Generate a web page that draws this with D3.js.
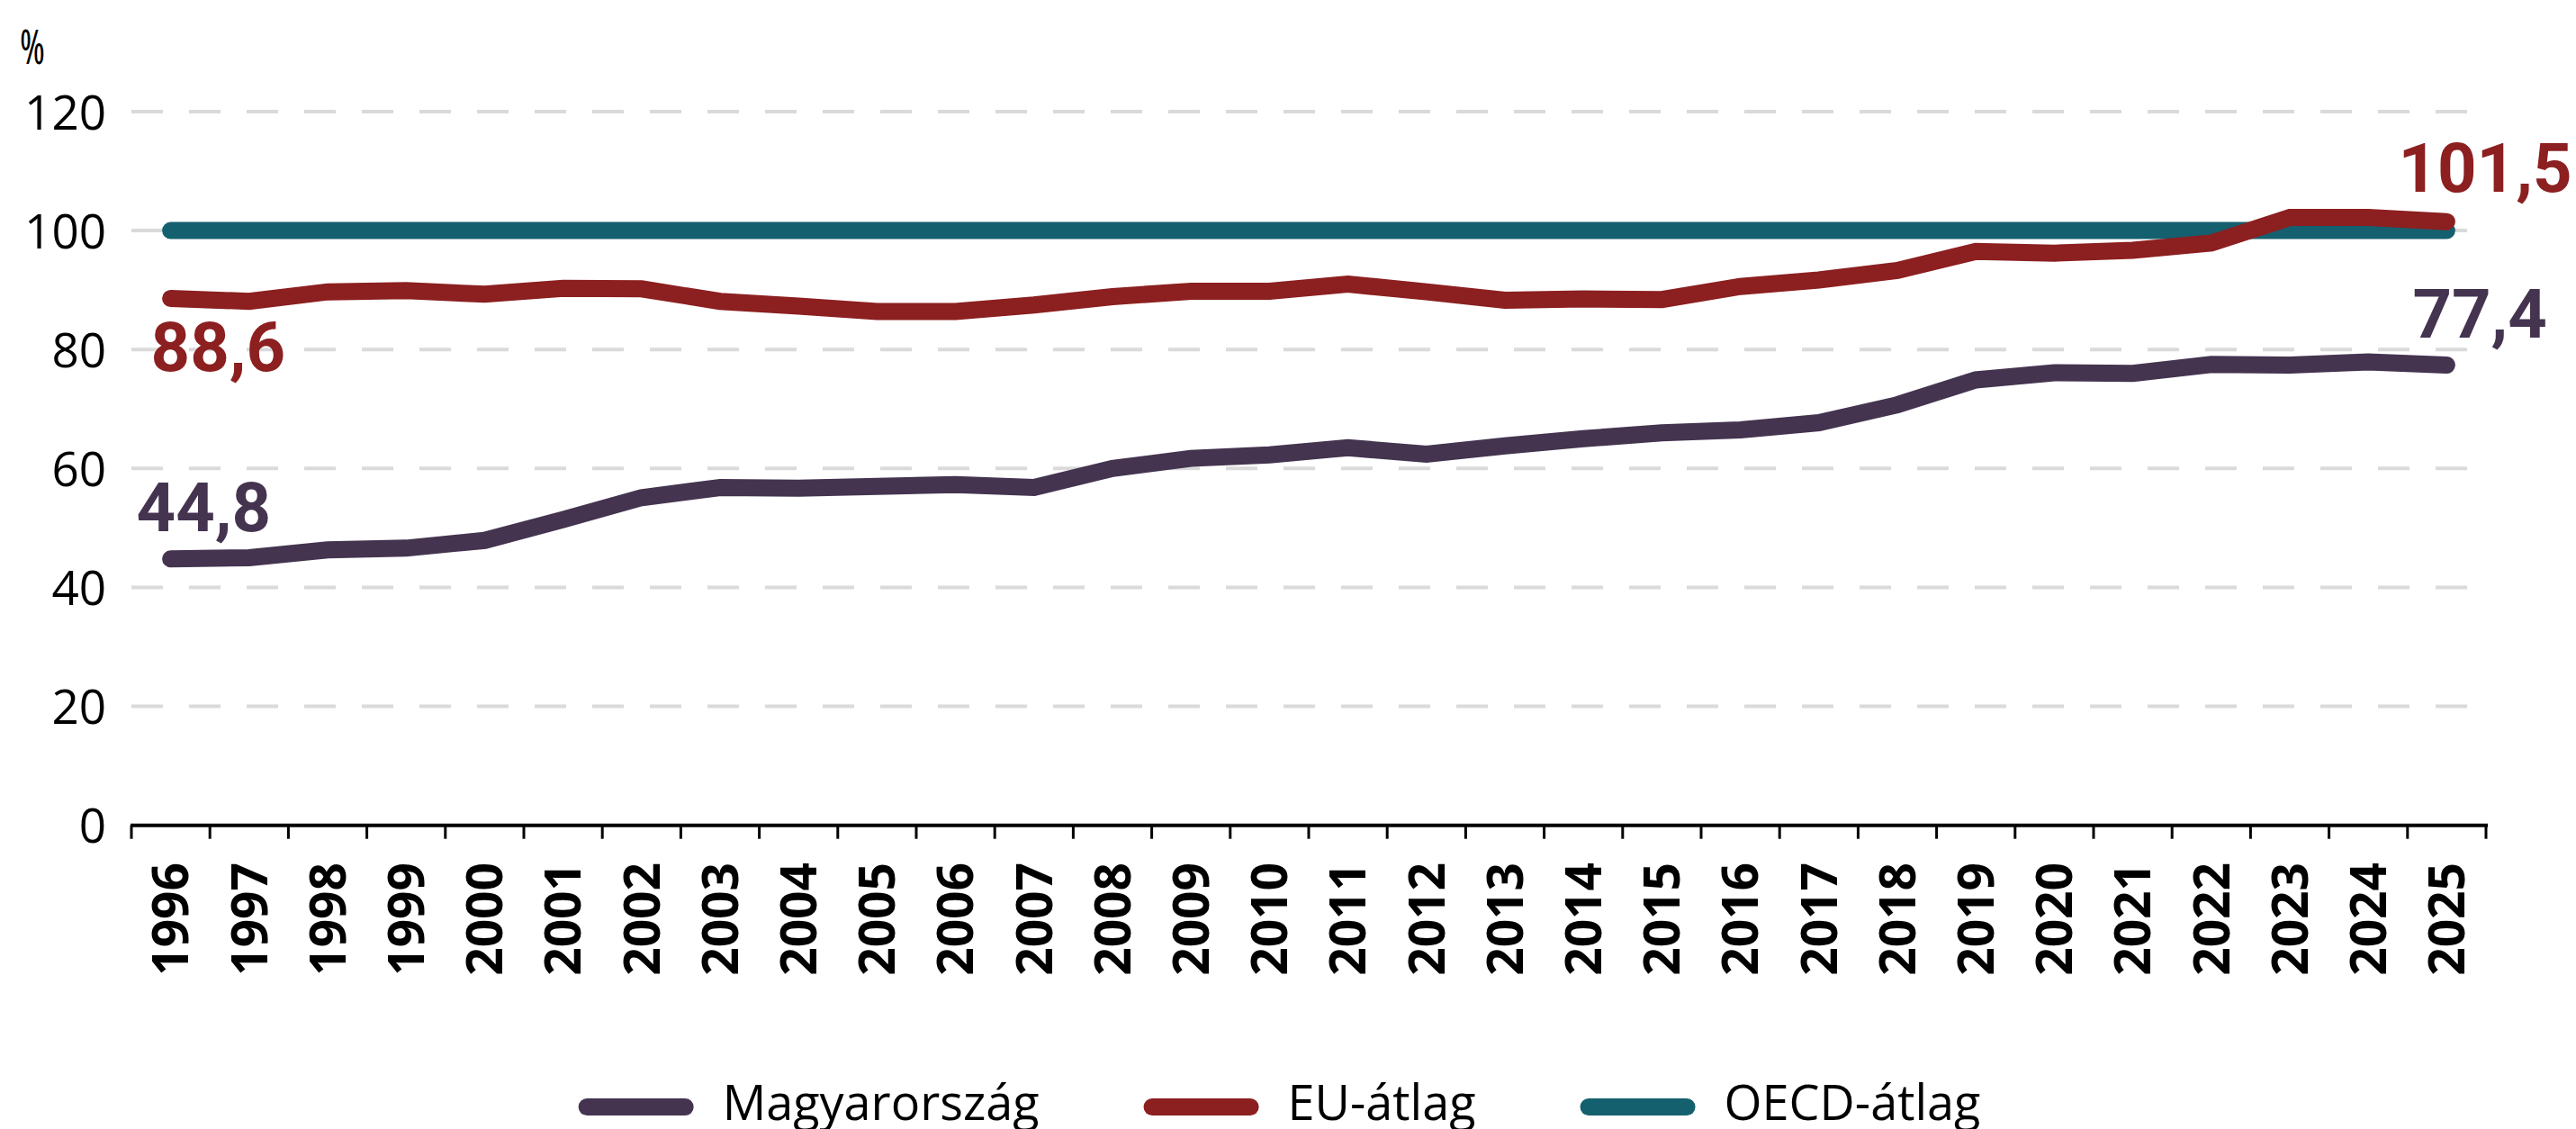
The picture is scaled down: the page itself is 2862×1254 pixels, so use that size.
<!DOCTYPE html>
<html><head><meta charset="utf-8">
<script src="https://cdn.jsdelivr.net/npm/d3@7"></script>
<style>html,body{margin:0;padding:0;background:#fff;overflow:hidden}</style>
</head><body>
<svg id="chart" width="2862" height="1254"></svg>
<script>
const years = [1996,1997,1998,1999,2000,2001,2002,2003,2004,2005,2006,2007,2008,2009,2010,2011,2012,2013,2014,2015,2016,2017,2018,2019,2020,2021,2022,2023,2024,2025];
const hungary = [44.8,45.0,46.3,46.6,47.9,51.4,55.1,56.8,56.7,57.0,57.3,56.8,60.0,61.7,62.3,63.5,62.4,63.8,65.0,66.0,66.5,67.7,70.7,74.9,76.1,76.0,77.5,77.4,77.9,77.4];
const euAvg = [88.6,88.1,89.7,89.9,89.3,90.3,90.2,88.1,87.3,86.4,86.4,87.5,88.9,89.8,89.8,91.0,89.7,88.3,88.5,88.4,90.6,91.7,93.3,96.5,96.2,96.7,97.9,102.2,102.2,101.5];
const oecdAvg = [100,100,100,100,100,100,100,100,100,100,100,100,100,100,100,100,100,100,100,100,100,100,100,100,100,100,100,100,100,100];
const yTicks = [0,20,40,60,80,100,120];
const seriesNames = ["Magyarország","EU-átlag","OECD-átlag"];
const seriesColors = ["#443450","#8c1f20","#14606e"];
const unitLabel = "%";

const svg = d3.select("#chart");
svg.append("rect").attr("width",2862).attr("height",1254).attr("fill","#fff");

const x = d3.scaleBand().domain(years).range([146, 2762]);
const cx = d => x(d) + x.bandwidth()/2;
const y = d3.scaleLinear().domain([0,120]).range([916.7, 124]);

const fmt = d3.formatLocale({decimal:",", thousands:" ", grouping:[3], currency:["",""]}).format(".1f");

// gridlines
svg.append("g").selectAll("line").data(yTicks.filter(t => t > 0)).join("line")
  .attr("x1", 146).attr("x2", 2762)
  .attr("y1", d => y(d)).attr("y2", d => y(d))
  .attr("stroke", "#dadada").attr("stroke-width", 4)
  .attr("stroke-dasharray", "35,29");

// y axis labels
const yAxis = d3.axisLeft(y).tickValues(yTicks).tickSize(0).tickPadding(0).tickFormat(d3.format("d"));
const yg = svg.append("g").attr("transform","translate(118,0)").call(yAxis);
yg.select(".domain").remove();
yg.selectAll("text").attr("font-family","'Open Sans', sans-serif").attr("font-size",53)
  .attr("fill","#000").attr("dy","0.36em").attr("x",0);

svg.append("text").text(unitLabel).attr("x",22).attr("y",71)
  .attr("font-family","'Open Sans', sans-serif").attr("font-size",52)
  .style("font-stretch","75%").attr("fill","#000")
  .attr("transform","translate(22,0) scale(0.82,1) translate(-22,0)");

// x axis
const xg = svg.append("g").attr("transform","translate(0,916.7)");
xg.append("line").attr("x1",145).attr("x2",2764).attr("y1",0).attr("y2",0)
  .attr("stroke","#000").attr("stroke-width",4);
const tickPos = years.map(d => x(d)).concat([x.range()[1]]);
xg.selectAll("line.tk").data(tickPos).join("line").attr("class","tk")
  .attr("x1", d => d).attr("x2", d => d).attr("y1", 0).attr("y2", 15)
  .attr("stroke","#000").attr("stroke-width",3);
xg.selectAll("text.yl").data(years).join("text").attr("class","yl")
  .attr("transform", d => `translate(${cx(d)},${958-916.7}) rotate(-90)`)
  .attr("text-anchor","end").attr("dy","0.36em")
  .attr("font-family","'Open Sans', sans-serif").attr("font-weight",700).attr("font-size",55)
  .attr("fill","#000").text(d => d);

// lines
const line = d3.line().x((d,i) => cx(years[i])).y(d => y(d));
const drawOrder = [[oecdAvg,2],[hungary,0],[euAvg,1]];
drawOrder.forEach(([vals, ci]) => {
  svg.append("path").datum(vals).attr("d", line)
    .attr("fill","none").attr("stroke", seriesColors[ci]).attr("stroke-width",19)
    .attr("stroke-linecap","round").attr("stroke-linejoin","miter");
});

// value labels
const last = years.length - 1;
const valueLabels = [
  {vals: euAvg, i: 0, ci: 1, dx: -22, dy: 81},
  {vals: hungary, i: 0, ci: 0, dx: -38, dy: -31},
  {vals: euAvg, i: last, ci: 1, dx: -54, dy: -33},
  {vals: hungary, i: last, ci: 0, dx: -38, dy: -30}
];
svg.append("g").selectAll("text").data(valueLabels).join("text")
  .attr("x", d => cx(years[d.i]) + d.dx)
  .attr("y", d => y(d.vals[d.i]) + d.dy)
  .attr("font-family","Roboto, sans-serif").attr("font-weight",700).attr("font-size",76)
  .attr("fill", d => seriesColors[d.ci])
  .text(d => fmt(d.vals[d.i]));

// legend
const lg = svg.append("g");
const items = lg.selectAll("g").data(seriesNames).join("g");
items.append("line").attr("x1",9.5).attr("x2",118.5).attr("y1",1229.5).attr("y2",1229.5)
  .attr("stroke",(d,i)=>seriesColors[i]).attr("stroke-width",19).attr("stroke-linecap","round");
items.append("text").attr("x",160).attr("y",1244).text(d=>d)
  .attr("font-family","'Open Sans', sans-serif").attr("font-size",54).attr("fill","#000");
let off = 0; const pos = [];
items.each(function(d,i){
  const w = d3.select(this).select("text").node().getComputedTextLength();
  pos.push(off); off += 160 + w + (i < seriesNames.length-1 ? 116 : 0);
});
const startX = 1421.5 - off/2;
items.attr("transform",(d,i)=>`translate(${startX+pos[i]},0)`);
</script>
</body></html>
